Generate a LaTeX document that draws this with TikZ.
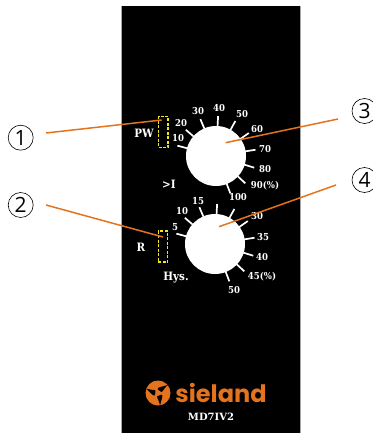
\documentclass[tikz,border=0pt]{standalone}
\usepackage{fontspec}
\setmainfont{DejaVu Serif}
\newfontfamily\condserif{DejaVu Serif Condensed}
\newfontfamily\logofont{Poppins}
\newfontfamily\numfont{Open Sans}
\usetikzlibrary{calc,positioning}
\definecolor{naranja}{HTML}{E5731D}
\definecolor{amarillo}{HTML}{F2E61E}
\tikzset{
    escala/.style={white,inner sep=0pt,font=\condserif\bfseries\fontsize{9.5}{11}\selectfont},
    rotulo/.style={white,inner sep=0pt,font=\condserif\bfseries\fontsize{11.5}{13}\selectfont},
    llamada/.style={draw=black,semithick,circle,minimum size=25pt,inner sep=0pt,font=\numfont\fontsize{21}{22}\selectfont},
    guia/.style={naranja,line width=1.5pt},
    ventana/.style={draw=amarillo,line width=1.3pt,dash pattern=on 3pt off 1.5pt,minimum width=9.5pt,minimum height=31pt,inner sep=0pt},
    perilla/.style={fill=white,circle,minimum size=60pt,inner sep=0pt},
    marca/.style={white,line width=1.7pt}
}
\begin{document}
\begin{tikzpicture}[x=1pt,y=-1pt]
    \useasboundingbox (0,0) rectangle (372,433);
    % ---- Panel ----
    \fill[black] (122,6) rectangle (300,433);
    \draw[black!35,thin] (121.5,6) -- (121.5,433);
    \draw[black!35,thin] (300.5,6) -- (300.5,433);

    % ---- Perillas ----
    \node[perilla] (knobA) at (216,156) {};
    \node[perilla] (knobB) at (215,244) {};
    \foreach \ang in {165,139,...,-70} {
        \draw[marca] ($(knobA.center)+(\ang:29pt)$) -- ($(knobA.center)+(\ang:40pt)$);
        \draw[marca] ($(knobB.center)+(\ang:29pt)$) -- ($(knobB.center)+(\ang:40pt)$);
    }

    % ---- Escala superior ----
    \node[escala] (a10) at (178,138) {10};
    \node[escala] (a20) at (181,123) {20};
    \node[escala] (a30) at (198,111) {30};
    \node[escala] (a40) at (219,108) {40};
    \node[escala] (a50) at (242,114) {50};
    \node[escala] (a60) at (257,129) {60};
    \node[escala] (a70) at (265,149) {70};
    \node[escala] (a80) at (265,169) {80};
    \node[escala] (a90) at (265,186) {90(\%)};
    \node[escala] (a100) at (238,197) {100};

    % ---- Escala inferior ----
    \node[escala] (b5) at (175,227) {5};
    \node[escala] (b10) at (182,211) {10};
    \node[escala] (b15) at (198,201) {15};
    \node[escala] (b30) at (257,216) {30};
    \node[escala] (b35) at (263,237) {35};
    \node[escala] (b40) at (262,257) {40};
    \node[escala] (b45) at (262,277) {45(\%)};
    \node[escala] (b50) at (234,290) {50};

    % ---- Rotulos ----
    \node[rotulo] (pw) at (144,133) {PW};
    \node[rotulo] (mayorI) at (169,184) {>I};
    \node[rotulo] (rr) at (141,247) {R};
    \node[rotulo] (hys) at (176,278) {Hys.};

    % ---- Ventanas amarillas ----
    \node[ventana] (winA) at (163.3,132) {};
    \node[ventana] (winB) at (163,246.5) {};

    % ---- Logo ----
    \fill[naranja] (158,393) circle (12.5);
    \foreach \rot in {0,120,240} {
        \fill[black,rotate around={\rot:(158,393)}] (158,393) ++(-2.5,-2.5)
            .. controls +(-2,-1) and +(4,1.5) .. ++(-9.5,-2)
            .. controls +(3,2) and +(-1,3) .. ++(9,6.5) -- cycle;
    }
    \node[naranja,inner sep=0pt,font=\logofont\bfseries\fontsize{24}{25}\selectfont] (marcaLogo) at (221,393) {sieland};
    \node[white,inner sep=0pt,font=\bfseries\fontsize{10}{12}\selectfont] (modelo) at (211,417) {MD7IV2};

    % ---- Llamadas ----
    \node[llamada] (c1) at (20.7,137.7) {1};
    \node[llamada] (c2) at (20.7,205) {2};
    \node[llamada] (c3) at (364.5,111) {3};
    \node[llamada] (c4) at (364.5,180) {4};
    \coordinate (e1) at (46,133);
    \coordinate (e2) at (46,205);
    \coordinate (e3) at (338,119);
    \coordinate (e4) at (336,185);
    \coordinate (p1) at (161.7,120);
    \coordinate (p2) at (163,237);
    \coordinate (p3) at (225.7,142.7);
    \coordinate (p4) at (219,226.7);
    \draw[guia] (e1) -- (p1);
    \draw[guia] (e2) -- (p2);
    \draw[guia] (e3) -- (p3);
    \draw[guia] (e4) -- (p4);
\end{tikzpicture}
\end{document}
